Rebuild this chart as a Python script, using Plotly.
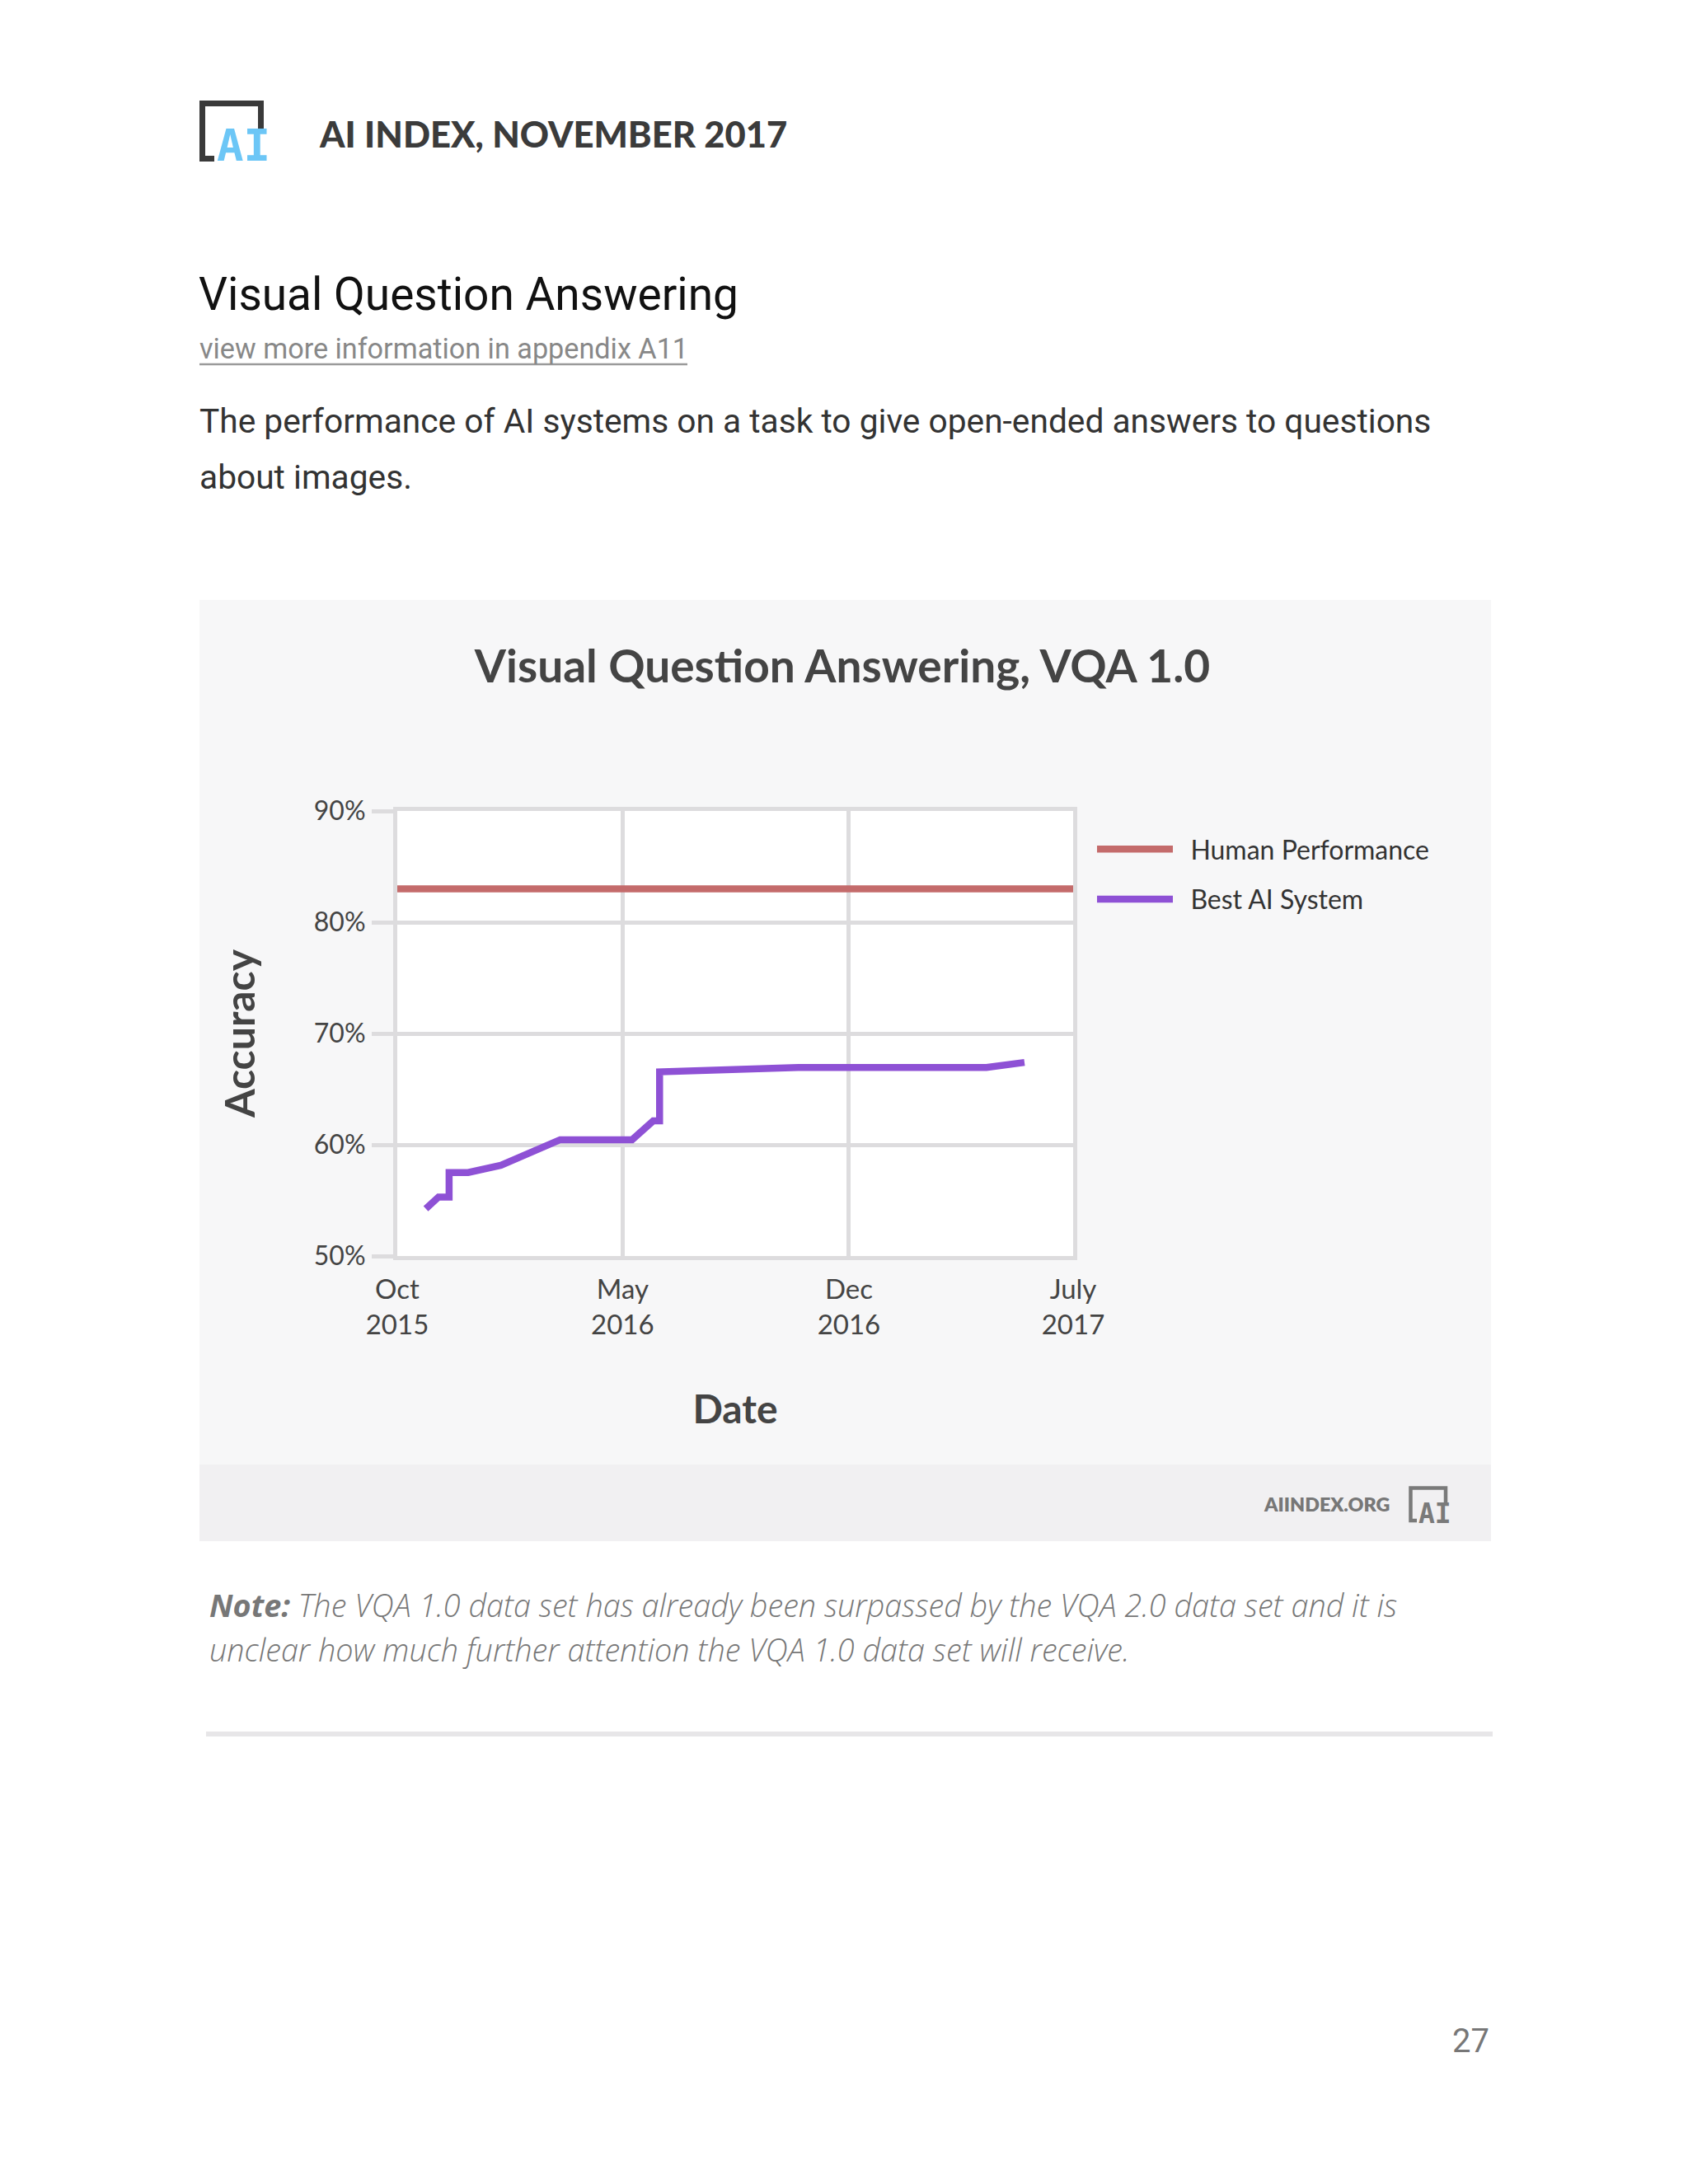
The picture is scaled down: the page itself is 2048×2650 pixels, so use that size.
import plotly.graph_objects as go

W, H = 2048, 2650

# ---------------- data ----------------
human_dates = ["2015-10-01", "2017-07-01"]
human_acc = [83.0, 83.0]

ai_dates = ["2015-10-28", "2015-11-09", "2015-11-19", "2015-11-19", "2015-12-07",
            "2016-01-07", "2016-03-03", "2016-05-10", "2016-05-30", "2016-06-05",
            "2016-06-05", "2016-10-14", "2017-04-10", "2017-05-16"]
ai_acc = [54.25, 55.3, 55.3, 57.5, 57.5,
          58.15, 60.45, 60.45, 62.15, 62.15,
          66.55, 66.95, 66.95, 67.4]

series_names = ["Human Performance", "Best AI System"]

x_range = ["2015-10-01", "2017-07-01"]
x_tickvals = ["2015-10-01", "2016-05-01", "2016-12-01", "2017-07-01"]
x_ticktext = ["Oct<br>2015", "May<br>2016", "Dec<br>2016", "July<br>2017"]
y_tickvals = [50, 60, 70, 80, 90]
y_ticktext = ["50%", "60%", "70%", "80%", "90%"]


def px(x):
    return x / W


def py(y):
    return 1 - y / H


GRID = "#dddcde"
RED = "#c46b6b"
PURPLE = "#8e51d5"
TXT = "#444444"
CHART_FONT = "Lato"
PAGE_FONT = "Roboto"
NB = "\u00a0\u00a0"

fig = go.Figure()
fig.add_trace(go.Scatter(x=human_dates, y=human_acc, mode="lines", name=NB + series_names[0],
                         legendgroup="h", line=dict(color=RED, width=8.5)))
fig.add_trace(go.Scatter(x=ai_dates, y=ai_acc, mode="lines", name=NB + series_names[1],
                         legendgroup="a", line=dict(color=PURPLE, width=8.5)))

shapes = [
    # chart card
    dict(type="rect", xref="paper", yref="paper", x0=px(242), x1=px(1809), y0=py(1777), y1=py(728),
         fillcolor="#f7f7f8", line=dict(width=0), layer="below"),
    dict(type="rect", xref="paper", yref="paper", x0=px(242), x1=px(1809), y0=py(1870), y1=py(1777),
         fillcolor="#f1f0f2", line=dict(width=0), layer="below"),
    # plot area background
    dict(type="rect", xref="x domain", yref="y domain", x0=0, x1=1, y0=0, y1=1,
         fillcolor="#ffffff", line=dict(width=0), layer="below"),
    # separator
    dict(type="rect", xref="paper", yref="paper", x0=px(250), x1=px(1811), y0=py(2107), y1=py(2101),
         fillcolor="#e7e6e8", line=dict(width=0), layer="below"),
    # link underline
    dict(type="line", xref="paper", yref="paper", x0=px(242), x1=px(834), y0=py(442), y1=py(442),
         line=dict(color="#9a9a9a", width=2.5)),
    # header logo frame
    dict(type="path", xref="paper", yref="paper",
         path="M {},{} L {},{} L {},{} L {},{} L {},{}".format(
             px(260), py(192.5), px(245.5), py(192.5), px(245.5), py(125.5),
             px(316.5), py(125.5), px(316.5), py(156)),
         line=dict(color="#3a3a3a", width=7)),
    # footer logo frame
    dict(type="path", xref="paper", yref="paper",
         path="M {},{} L {},{} L {},{} L {},{} L {},{}".format(
             px(1719), py(1845), px(1711.5), py(1845), px(1711.5), py(1805.5),
             px(1754), py(1805.5), px(1754), py(1823)),
         line=dict(color="#7a7a7a", width=4.5)),
]

annotations = [
    # header
    dict(text="AI", x=px(261), y=py(177), xanchor="left", yanchor="middle",
         font=dict(family="DejaVu Sans Mono", size=54, color="#6cc6f6", weight=700)),
    dict(text="AI INDEX, NOVEMBER 2017", x=px(385), y=py(162), xanchor="left", yanchor="middle",
         font=dict(family="Lato", size=43.5, color="#3b3b3b", weight=900)),
    # section
    dict(text="Visual Question Answering", x=px(239), y=py(357), xanchor="left", yanchor="middle",
         font=dict(family=PAGE_FONT, size=55, color="#111111")),
    dict(text="view more information in appendix A11", x=px(240), y=py(423), xanchor="left", yanchor="middle",
         font=dict(family=PAGE_FONT, size=34.2, color="#888888")),
    dict(text="The performance of AI systems on a task to give open-ended answers to questions",
         x=px(240), y=py(511), xanchor="left", yanchor="middle",
         font=dict(family=PAGE_FONT, size=40.7, color="#333333")),
    dict(text="about images.", x=px(240), y=py(579), xanchor="left", yanchor="middle",
         font=dict(family=PAGE_FONT, size=40.7, color="#333333")),
    # footer of card
    dict(text="AIINDEX.ORG", x=px(1688), y=py(1825), xanchor="right", yanchor="middle",
         font=dict(family="Lato", size=23.3, color="#777777", weight=800)),
    dict(text="AI", x=px(1719), y=py(1836), xanchor="left", yanchor="middle",
         font=dict(family="DejaVu Sans Mono", size=33, color="#7a7a7a", weight=700)),
    # note
    dict(text="<b>Note:</b> The VQA 1.0 data set has already been surpassed by the VQA 2.0 data set and it is",
         x=px(252), y=py(1947), xanchor="left", yanchor="middle",
         font=dict(family="Open Sans", size=37.8, color="#777777", style="italic", weight=300)),
    dict(text="unclear how much further attention the VQA 1.0 data set will receive.",
         x=px(252), y=py(2001), xanchor="left", yanchor="middle",
         font=dict(family="Open Sans", size=37.8, color="#777777", style="italic", weight=300)),
    # page number
    dict(text="27", x=px(1809), y=py(2476), xanchor="right", yanchor="middle",
         font=dict(family=PAGE_FONT, size=40, color="#777777")),
]

for a in annotations:
    a.update(xref="paper", yref="paper", showarrow=False)

fig.update_layout(
    template="none",
    width=W, height=H,
    margin=dict(l=0, r=0, t=0, b=0, pad=0, autoexpand=False),
    paper_bgcolor="#ffffff",
    plot_bgcolor="rgba(0,0,0,0)",
    title=dict(text="<b>Visual Question Answering, VQA 1.0</b>", x=px(1022), xanchor="center",
               y=py(809), yanchor="middle",
               font=dict(family=CHART_FONT, size=55, color=TXT)),
    shapes=shapes,
    annotations=annotations,
    showlegend=True,
    legend=dict(x=px(1326), y=py(1003), xanchor="left", yanchor="top",
                bgcolor="rgba(0,0,0,0)", borderwidth=0, itemwidth=92, tracegroupgap=16,
                font=dict(family=CHART_FONT, size=32, color="#333333")),
    xaxis=dict(
        type="date", range=x_range, domain=[px(482), px(1302)], automargin=False,
        tickmode="array", tickvals=x_tickvals, ticktext=x_ticktext,
        showgrid=True, gridcolor=GRID, gridwidth=5,
        showline=True, mirror=True, linecolor=GRID, linewidth=5,
        ticks="", zeroline=False, ticklabelstandoff=7,
        tickfont=dict(family=CHART_FONT, size=33, color=TXT),
        title=dict(text="<b>Date</b>", standoff=70,
                   font=dict(family=CHART_FONT, size=48, color=TXT)),
    ),
    yaxis=dict(
        range=[50, 90], domain=[py(1524), py(984)], automargin=False,
        tickmode="array", tickvals=y_tickvals, ticktext=y_ticktext,
        showgrid=True, gridcolor=GRID, gridwidth=5,
        showline=True, mirror=True, linecolor=GRID, linewidth=5,
        ticks="outside", ticklen=26, tickwidth=5, tickcolor=GRID,
        zeroline=False, ticklabelstandoff=1,
        tickfont=dict(family=CHART_FONT, size=32, color=TXT),
        title=dict(text="<b>Accuracy</b>", standoff=57,
                   font=dict(family=CHART_FONT, size=50, color=TXT)),
    ),
)

fig.write_html("out.html", config={"displayModeBar": False},
               post_script="document.body.style.margin='0';")
